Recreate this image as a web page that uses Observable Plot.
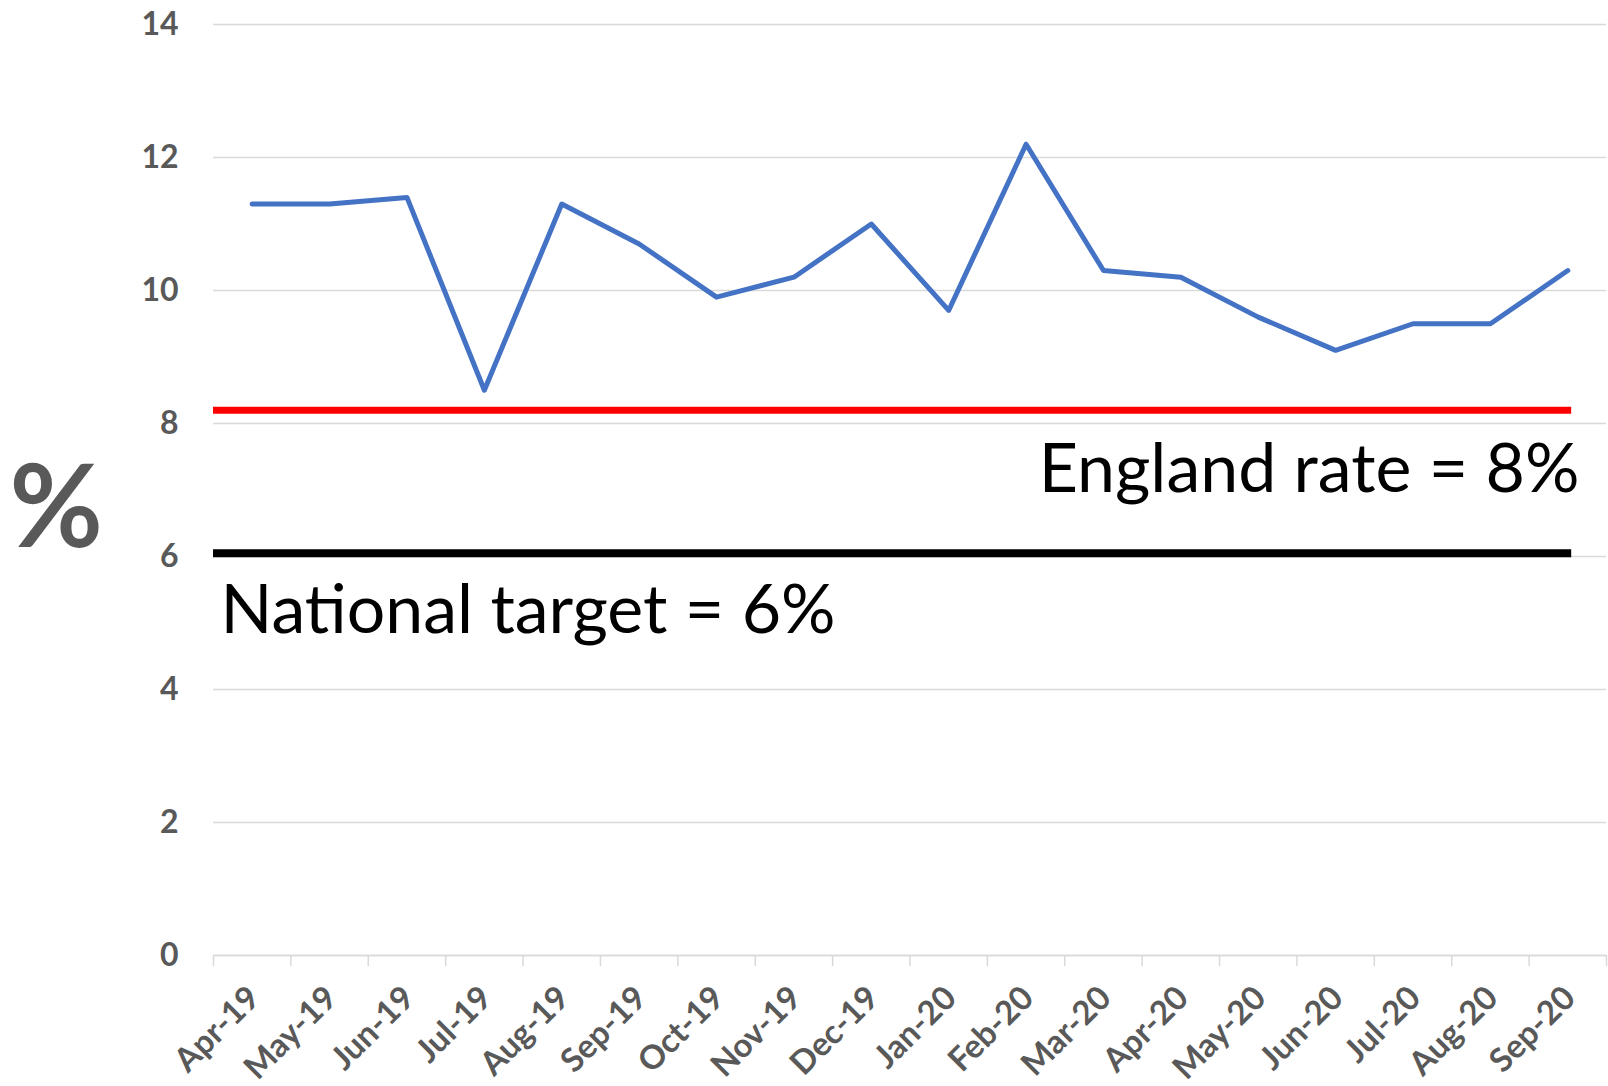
<!DOCTYPE html>
<html>
<head>
<meta charset="utf-8">
<script src="https://cdn.jsdelivr.net/npm/d3@7"></script>
<script src="https://cdn.jsdelivr.net/npm/@observablehq/plot@0.6"></script>
<style>
  html, body { margin: 0; padding: 0; background: #ffffff; }
  #chart svg { display: block; }
</style>
</head>
<body>
<div id="chart"></div>
<script>
// ---- Data ----
const months = ["Apr-19","May-19","Jun-19","Jul-19","Aug-19","Sep-19","Oct-19","Nov-19","Dec-19",
                "Jan-20","Feb-20","Mar-20","Apr-20","May-20","Jun-20","Jul-20","Aug-20","Sep-20"];
const rate = [11.3, 11.3, 11.4, 8.5, 11.3, 10.7, 9.9, 10.2, 11.0,
              9.7, 12.2, 10.3, 10.2, 9.6, 9.1, 9.5, 9.5, 10.3];
const englandRate = 8.2;
const nationalTarget = 6.05;
const yTicks = [0, 2, 4, 6, 8, 10, 12, 14];
const englandLabel = "England rate = 8%";
const nationalLabel = "National target = 6%";
const yTitle = "%";

const data = months.map((m, i) => ({i, month: m, value: rate[i]}));
const centers = months.map((_, i) => i);
const boundaries = d3.range(months.length + 1).map(i => i - 0.5);
const lastIdx = months.length - 1;

const font = "Lato, 'Open Sans', sans-serif";

const chart = Plot.plot({
  width: 1608,
  height: 1086,
  marginLeft: 213,
  marginRight: 2,
  marginTop: 24,
  marginBottom: 131,
  style: {fontFamily: font, background: "#ffffff"},
  x: {type: "linear", domain: [-0.5, months.length - 0.5]},
  y: {domain: [0, 14]},
  marks: [
    Plot.gridY(yTicks, {stroke: "#d9d9d9", strokeOpacity: 1, strokeWidth: 1.5}),
    Plot.ruleY([0], {stroke: "#d9d9d9", strokeWidth: 1.5}),
    Plot.axisX(boundaries, {tickFormat: () => "", tickSize: 11, stroke: "#d9d9d9", strokeWidth: 1.5, label: null}),
    Plot.axisX(centers, {
      tickFormat: i => months[i], tickSize: 0, tickRotate: -45, tickPadding: 37,
      fontSize: 33, fontWeight: "bold", fill: "#595959", label: null, dx: 2
    }),
    Plot.axisY(yTicks, {
      tickFormat: d => String(d), tickSize: 0, tickPadding: 35, fontSize: 32, fontWeight: "bold",
      fill: "#595959", label: null
    }),
    Plot.ruleY([englandRate], {x1: -0.5, x2: lastIdx + 0.05, stroke: "#ff0000", strokeWidth: 7}),
    Plot.ruleY([nationalTarget], {x1: -0.5, x2: lastIdx + 0.05, stroke: "#000000", strokeWidth: 8}),
    Plot.line(data, {x: "i", y: "value", stroke: "#4472C4", strokeWidth: 5,
      strokeLinecap: "round", strokeLinejoin: "round"}),
    Plot.text([englandLabel], {
      y: () => englandRate, text: d => d, frameAnchor: "right", textAnchor: "end",
      lineAnchor: "bottom", dx: -27, dy: 82, fontSize: 68, fill: "#000000"
    }),
    Plot.text([nationalLabel], {
      y: () => nationalTarget, text: d => d, frameAnchor: "left", textAnchor: "start",
      lineAnchor: "bottom", dx: 7, dy: 80, fontSize: 68, fill: "#000000"
    }),
    Plot.text([yTitle], {
      text: d => d, frameAnchor: "left", textAnchor: "start", lineAnchor: "bottom",
      dx: -204, dy: 57, fontSize: 114, fontWeight: "bold", fill: "#595959"
    })
  ]
});
document.getElementById("chart").appendChild(chart);
</script>
</body>
</html>
